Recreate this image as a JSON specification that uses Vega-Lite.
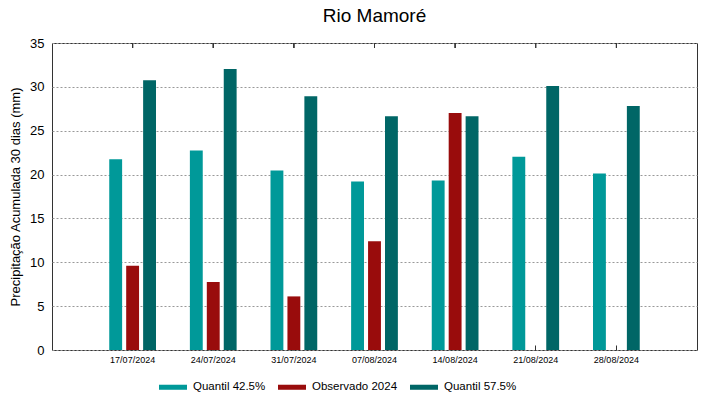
{
  "$schema": "https://vega.github.io/schema/vega-lite/v6.json",
  "width": 645,
  "height": 307,
  "autosize": {"type": "none"},
  "padding": {"left": 52, "top": 43, "right": 22, "bottom": 49},
  "background": "white",
  "title": {"text": "Rio Mamoré", "fontSize": 19, "font": "Liberation Sans", "fontWeight": "normal", "anchor": "middle", "offset": 11, "color": "#000000"},
  "config": {
    "font": "Liberation Sans",
    "view": {"stroke": "#333333", "strokeWidth": 1}
  },
  "data": {
    "values": [
      {"data": "17/07/2024", "serie": "Quantil 42.5%", "valor": 21.75},
      {"data": "17/07/2024", "serie": "Observado 2024", "valor": 9.61},
      {"data": "17/07/2024", "serie": "Quantil 57.5%", "valor": 30.74},
      {"data": "24/07/2024", "serie": "Quantil 42.5%", "valor": 22.74},
      {"data": "24/07/2024", "serie": "Observado 2024", "valor": 7.74},
      {"data": "24/07/2024", "serie": "Quantil 57.5%", "valor": 32.04},
      {"data": "31/07/2024", "serie": "Quantil 42.5%", "valor": 20.46},
      {"data": "31/07/2024", "serie": "Observado 2024", "valor": 6.11},
      {"data": "31/07/2024", "serie": "Quantil 57.5%", "valor": 28.92},
      {"data": "07/08/2024", "serie": "Quantil 42.5%", "valor": 19.21},
      {"data": "07/08/2024", "serie": "Observado 2024", "valor": 12.41},
      {"data": "07/08/2024", "serie": "Quantil 57.5%", "valor": 26.64},
      {"data": "14/08/2024", "serie": "Quantil 42.5%", "valor": 19.32},
      {"data": "14/08/2024", "serie": "Observado 2024", "valor": 27.03},
      {"data": "14/08/2024", "serie": "Quantil 57.5%", "valor": 26.64},
      {"data": "21/08/2024", "serie": "Quantil 42.5%", "valor": 22.02},
      {"data": "21/08/2024", "serie": "Quantil 57.5%", "valor": 30.1},
      {"data": "28/08/2024", "serie": "Quantil 42.5%", "valor": 20.12},
      {"data": "28/08/2024", "serie": "Quantil 57.5%", "valor": 27.83}
    ]
  },
  "layer": [
    {
      "mark": {"type": "bar", "stroke": null},
      "encoding": {
        "x": {
          "field": "data", "type": "ordinal", "sort": null,
          "scale": {"paddingInner": 0, "paddingOuter": 0.5},
          "axis": {"title": null, "orient": "bottom", "labelAngle": 0, "labelFontSize": 9, "labelColor": "#000000", "labelPadding": 10, "domain": false, "ticks": true, "tickSize": -5, "tickColor": "#333333", "grid": false}
        },
        "xOffset": {
          "field": "serie", "type": "nominal",
          "sort": ["Quantil 42.5%", "Observado 2024", "Quantil 57.5%"],
          "scale": {"paddingInner": 0.24, "paddingOuter": 1.06}
        },
        "y": {
          "field": "valor", "type": "quantitative",
          "scale": {"domain": [0, 35], "nice": false},
          "axis": {"title": "Precipitação Acumulada 30 dias (mm)", "orient": "left", "titleFontSize": 13, "titleFontWeight": "normal", "titleColor": "#000000", "titlePadding": 7, "values": [0, 5, 10, 15, 20, 25, 30, 35], "labelFontSize": 13, "labelColor": "#000000", "labelPadding": 8, "tickSize": 0, "domain": false, "grid": true, "gridColor": "#999999", "gridDash": [2, 2], "gridWidth": 1}
        },
        "color": {
          "field": "serie", "type": "nominal",
          "sort": ["Quantil 42.5%", "Observado 2024", "Quantil 57.5%"],
          "scale": {"domain": ["Quantil 42.5%", "Observado 2024", "Quantil 57.5%"], "range": ["#009999", "#990c0c", "#006666"]},
          "legend": {"title": null, "orient": "none", "legendX": 107, "legendY": 330, "direction": "horizontal", "symbolType": "M-1,-0.18H1V0.18H-1Z", "symbolSize": 784, "symbolStrokeWidth": 0, "labelFontSize": 11.5, "labelColor": "#000000", "columnPadding": 12, "labelOffset": 6}
        }
      }
    },
    {
      "mark": {"type": "rule", "color": "#333333", "strokeWidth": 1},
      "encoding": {
        "x": {"field": "data", "type": "ordinal", "sort": null},
        "y": {"datum": 35, "type": "quantitative"},
        "y2": {"datum": 34.43}
      }
    }
  ]
}
